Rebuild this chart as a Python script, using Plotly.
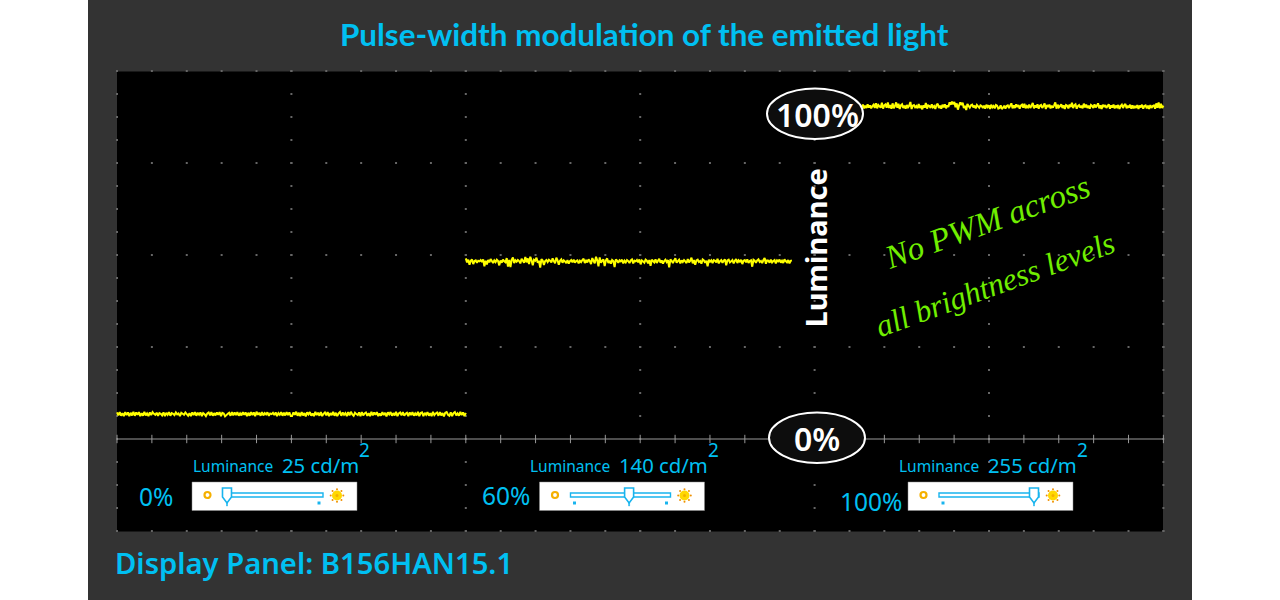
import numpy as np
import plotly.graph_objects as go

TITLE = "Pulse-width modulation of the emitted light"
PANEL_NAME = "Display Panel: B156HAN15.1"
CYAN = "#00C0F2"

# Luminance traces (percent of full scale, x in divisions)
LEVEL_25 = 7.5
LEVEL_140 = 53.5
LEVEL_255 = 100.2
RIPPLE_25 = [.5,-.4,.6,-.5,.3,-.6,.6,-.3,.5,-.6,.4,-.4,.7,-.5,.5,-.2,.6,-.6,.3,-.5,.7,-.4,.2,-.6,.5,-.3,.6,.1,-.2,.4,-.5,.3,
             .1,-.4,.5,-.6,.4,-.2,.6,-.5,.3,.1,-.3,.5,-.1,.2,-.6,.4,.1,-.2,.5,.0,-.5,.3,-.6,.5,-.3,.6,-.5,.4,-.2,.5,-.6,.3,
             .0,-.6,.2,.5,-.4,.6,-.5,.3,-.4,.5,-.2,.6,-.6,.4,.2,-.7,-.3,.1,.4,-.5,.6,-.4,.5,-.3,.6,-.5,.2,-.4,.6,-.2,.5,-.6,
             .4,-.5,.6,-.3,.5,-.6,.7,-.2,.4,-.5,.6,-.4,.3,-.1,.5,-.5,.2,.0,.4,-.3,.5,-.6,.3,-.2,.6,-.5,.4,-.4,.6,-.3,.5,-.6,
             -.6,.5,-.2,.7,-.5,.4,-.6,.6,-.4,.3,-.7,.5,-.1,.6,-.5,.2,-.6,.7,-.3,.4,-.5,.6,-.6,.1,.5,-.4,.6,-.6,.3,-.3,.7,-.5,
             .4,-.6,.2,.6,-.5,.5,-.2,.3,-.6,.6,-.4,.7,-.1,-.5,.4,.0,-.3,.5,-.6,.6,-.4,.2,.5,-.5,.3,-.6,.7,-.4,.5,-.2,.6,-.6,
             .2,-.5,.6,-.3,.4,-.7,.5,-.1,.6,-.5,.3,-.4,.7,-.6,.2,.5,-.4,.6,-.5,.1,.4,-.6,.5,-.3,.6,-.5,.2,-.4,.7,-.6,.3,.5,
             -.6,.4,-.2,.6,-.5,.3,-.6,.7,-.3,.2,.5,-.5,.6,-.4,.3,-.7,.4,.6,-.2,-.5,.5,-.6,.3,.6,-.4,.2,-.5,.7,-.3,.5,-.6,.4]
RIPPLE_140 = [.9,-.3,.5,-1.0,.2,.6,-.8,.1,.3,-.4,.2,.0,.4,-.2,.6,-1.5,.2,-.9,.4,-.3,.7,.1,-.5,.3,-.2,.5,.1,-1.2,.3,-.4,.5,.0,
              -.3,1.0,-1.6,.4,-1.7,.5,1.2,-.5,.3,-.1,.4,.1,-.6,.8,.2,-.4,1.3,-.3,.9,-.8,1.4,.3,-1.2,.5,.2,1.1,-.4,.2,-1.9,.7,.3,-1.1,
              .1,.4,-.2,.5,.2,-.3,.9,.1,-.6,1.1,.3,-1.0,.2,.6,-.4,.3,.0,-.5,.4,-.7,.1,.4,-.3,.5,-.4,.1,.3,-.6,.2,-.2,.4,.8,-.5,.2,
              -.3,.6,.1,-.8,1.0,.2,-.6,1.4,.3,-1.5,1.2,-.4,.2,.6,-1.4,.3,.9,-.5,.2,-.7,.4,.1,-1.7,.6,.2,-.4,.3,.0,.5,-.6,.2,-.3,.4,.1,-.5,.3,.6,-.6,.2,.0,
              .4,-.3,.6,-.9,.3,.0,-.4,.5,.2,-.6,.4,-1.3,.5,.1,-.3,.6,-.5,.2,.8,-.4,.3,-.7,.1,.5,-.2,.4,-1.8,.6,.2,-.5,.3,.9,
              -.4,.1,.5,-.6,.3,-.2,.4,.0,-.5,.7,-.3,.2,1.1,-.6,.4,-1.0,.3,.5,-.2,.1,-.7,.6,.3,-.4,.2,-1.5,.5,-.1,.3,-.5,.4,.2,
              -.3,.8,-.6,.1,.4,-.4,.2,.6,-1.2,.3,.5,-.3,.0,.4,-.6,.2,.7,-.5,.3,-.1,.5,-.8,.2,.4,-.3,.6,-.5,.1,.3,-1.6,.5,.2,
              -.4,.3,.6,-.2,.1,-.5,.4,1.0,-.7,.3,.2,-.4,.5,-.3,.1,.4,-.6,.3,.0,.5,-.4,.2,-.5,.6,.1,-.3,.4,-.6,.2,.3]
RIPPLE_255 = [-.3,.5,-.6,.2,-.5,.6,-.4,.3,-.6,.1,.5,-.5,.9,-.6,.4,.0,-.4,1.1,-.7,.3,.6,-.4,1.2,-.5,.4,-.7,.9,-.6,.1,1.2,-.4,.8,
              -.8,.3,.6,-.5,.2,-.7,.4,-.3,.2,1.3,-.8,.2,.4,-.3,.1,-.6,.7,-.5,.2,-.9,.3,-.4,1.0,-.7,.3,.1,-.5,.6,-.3,.1,-.8,.4,
              .8,-.5,.2,-.7,.5,-.3,.6,-.6,.3,-.2,1.2,.5,1.4,.6,1.3,-.3,.9,-1.0,.3,1.2,.4,1.1,-.5,.2,-1.1,.7,.1,-.4,.3,.5,-.3,.2,
              -.6,.4,.0,-.4,.3,.1,-.5,.2,-.7,.5,-.2,.3,-.8,.5,-.3,.1,-.6,.4,.2,-.7,-.5,.3,-.8,-.4,.2,-.7,.1,.3,-.5,.2,.9,-.6,
              .3,-.5,.6,-.2,.4,-.7,.2,.5,-.4,.8,-.6,.1,-.3,.5,-.5,.2,1.0,-.6,.3,-.4,.6,-.7,.2,.4,-.5,.1,.9,-.8,.4,-.2,.5,-.6,
              .2,-.4,.3,1.2,-.7,.5,-.3,.1,.6,-.5,.3,-.8,.4,.2,-.6,.5,-.2,1.1,-.5,.3,.6,-.7,.1,.4,-.4,.2,-.6,.8,-.3,.5,-.5,.2,
              -.7,.4,.1,-.5,.6,-.3,.2,.9,-.6,.3,-.8,.5,-.2,.4,-.5,.1,.6,-.7,.3,-.4,.5,-.6,.2,-.3,.4,-.8,.1,.5,-.5,.3,.7,-.6,
              .2,-.4,.5,-.7,.3,-.6,.1,-.5,.4,-.8,.2,-.3,.5,-.7,.1,.3,-.6,.2,-.8,.4,-.5,.1,.3,-.7,.9,-.4,1.2,-.6,.8,-.5,.2]

# Where each sweep starts and stops on the time axis (divisions)
SWEEP_25 = (0.0, 2.0)
SWEEP_140 = (2.0, 3.87)
SWEEP_255 = (4.27, 6.0)

BRIGHTNESS = [0, 60, 100]
BRIGHT_LABELS = ["0%", "60%", "100%"]
LUMINANCE = ["25 cd/m", "140 cd/m", "255 cd/m"]

# scale helpers for decoration placement: canvas pixel -> axis value
X0, XDIV = 117.0, 174.4
Y0, YPCT = 439.0, 3.32
def px(x): return (x - X0) / XDIV
def py(y): return (Y0 - y) / YPCT

fig = go.Figure()
shapes, notes = [], []

def rect(x0, y0, x1, y1, fill, layer="above", line=None, lw=0):
    shapes.append(dict(type="rect", xref="x", yref="y", x0=px(x0), x1=px(x1), y0=py(y0), y1=py(y1),
                       fillcolor=fill, line=dict(color=line or fill, width=lw), layer=layer))

def ellipse(x0, y0, x1, y1, fill, line=None, lw=0):
    shapes.append(dict(type="circle", xref="x", yref="y", x0=px(x0), x1=px(x1), y0=py(y0), y1=py(y1),
                       fillcolor=fill, line=dict(color=line or fill, width=lw), layer="above"))

def poly(points, fill, line, lw):
    path = "M " + " L ".join(f"{px(a):.4f},{py(b):.3f}" for a, b in points) + " Z"
    shapes.append(dict(type="path", xref="x", yref="y", path=path, fillcolor=fill,
                       line=dict(color=line, width=lw), layer="above"))

def text(x, y, s, size, color=CYAN, family="Noto Sans", weight=400, anchor="left", angle=0, style="normal"):
    notes.append(dict(x=px(x), y=py(y), xref="x", yref="y", text=s, showarrow=False, xanchor=anchor, yanchor="middle",
                      textangle=angle, borderpad=0,
                      font=dict(size=size, color=color, family=family, weight=weight, style=style)))

# Backgrounds
rect(88, 0, 1192, 600, "#333333", layer="below")
rect(117, 71.5, 1163, 531.5, "#000000", layer="below")

# Oscilloscope graticule dots
minor_x = [i / 5 for i in range(31)]
major_x = [i for i in range(7)]
major_y = [py(71), py(163), py(255), py(347), py(531)]
minor_y = [py(71 + 23 * i) for i in range(21)]
gx = [x for y in major_y for x in minor_x] + [x for x in major_x for y in minor_y]
gy = [y for y in major_y for x in minor_x] + [y for x in major_x for y in minor_y]
fig.add_trace(go.Scatter(x=gx, y=gy, mode="markers", hoverinfo="skip", showlegend=False,
                         marker=dict(symbol="square", size=2, color="#666666", line=dict(width=0))))

# Zero line with its ticks
fig.add_trace(go.Scatter(x=[0, 6], y=[0, 0], mode="lines", hoverinfo="skip", showlegend=False,
                         line=dict(color="#999999", width=1.2)))
fig.add_trace(go.Scatter(x=minor_x, y=[0] * len(minor_x), mode="markers", hoverinfo="skip", showlegend=False,
                         marker=dict(symbol="line-ns", size=6, line=dict(color="#999999", width=1))))

# Sweeps
for level, ripple, (a, b) in [(LEVEL_25, RIPPLE_25, SWEEP_25), (LEVEL_140, RIPPLE_140, SWEEP_140),
                              (LEVEL_255, RIPPLE_255, SWEEP_255)]:
    fig.add_trace(go.Scatter(x=np.linspace(a, b, len(ripple)), y=[level + r for r in ripple], mode="lines",
                             hoverinfo="skip", showlegend=False,
                             line=dict(color="#FFFF00", width=2.0, simplify=False)))

# Scale ellipses
ellipse(767, 88.5, 863, 139, "#0D0D0D", "#FFFFFF", 2)
ellipse(769, 412.5, 865, 463, "#0D0D0D", "#FFFFFF", 2)
text(817, 114, "100%", 32, "#FFFFFF", weight=600, anchor="center")
text(817, 438, "0%", 32, "#FFFFFF", weight=600, anchor="center")

text(815, 248.5, "Luminance", 29, "#FFFFFF", weight=700, anchor="center", angle=-90)
GREEN = "#70EE00"
text(987, 222, "No PWM across", 33, GREEN, family="Liberation Serif", anchor="center", angle=-20, style="italic")
text(995, 284, "all brightness levels", 31.5, GREEN, family="Liberation Serif", anchor="center", angle=-20, style="italic")

# Title and footer
text(644.5, 34, TITLE, 31.4, family="Lato", weight=700, anchor="center")
text(114, 563, PANEL_NAME, 29.2, weight=600)

# Brightness widgets
panel_x = [192, 539.5, 908]
lab_x = [192, 529, 898]
num_x = [281, 618, 987]
sup_x = [364, 713, 1082]
pct_x = [156, 505.5, 870.5]
pct_y = [496, 495, 501]
BLUE = "#18B4EE"
for i, b in enumerate(BRIGHTNESS):
    x = panel_x[i]
    text(lab_x[i], 466, "Luminance", 15.5)
    text(num_x[i], 465, LUMINANCE[i], 20.3)
    text(sup_x[i], 450, "2", 19, anchor="center")
    text(pct_x[i], pct_y[i], BRIGHT_LABELS[i], 24.5, anchor="center")
    rect(x, 482, x + 165, 510.5, "#FFFFFF", line="#888888", lw=0.5)
    ellipse(x + 12.5, 492, x + 18.5, 498, "#FFFFFF", "#F5B000", 2.2)
    rect(x + 31, 493, x + 131, 497, "#FFFFFF", line=BLUE, lw=1.4)
    if b > 0:
        rect(x + 33.5, 501.5, x + 36.5, 504.5, BLUE)
    if b < 100:
        rect(x + 125.5, 501.5, x + 128.5, 504.5, BLUE)
    c = x + 35 + b * 0.91
    poly([(c - 4.5, 488), (c + 4.5, 488), (c + 4.5, 497), (c, 503), (c - 4.5, 497)], "#FFFFFF", BLUE, 1.6)
    poly([(c - 0.5, 502), (c + 0.5, 502), (c + 0.5, 506), (c - 0.5, 506)], BLUE, BLUE, 0.5)
    sx, sy = x + 145, 495.5
    ellipse(sx - 5, sy - 5, sx + 5, sy + 5, "#FFD800")
    ellipse(sx - 1.5, sy - 1.5, sx + 1.5, sy + 1.5, "#F5B000")
    for k in range(8):
        a = k * np.pi / 4
        dx, dy = 6.3 * np.cos(a), 6.3 * np.sin(a)
        ellipse(sx + dx - 1, sy + dy - 1, sx + dx + 1, sy + dy + 1, "#F09000")

fig.update_layout(
    width=1280, height=600, autosize=False, margin=dict(l=0, r=0, t=0, b=0),
    paper_bgcolor="#FFFFFF", plot_bgcolor="#FFFFFF", showlegend=False,
    shapes=shapes, annotations=notes,
    xaxis=dict(range=[px(0), px(1280)], visible=False, fixedrange=True),
    yaxis=dict(range=[py(600), py(0)], visible=False, fixedrange=True),
)
fig.write_html("out.html", config=dict(displayModeBar=False),
               post_script="document.body.style.margin='0';document.documentElement.style.overflow='hidden';")
